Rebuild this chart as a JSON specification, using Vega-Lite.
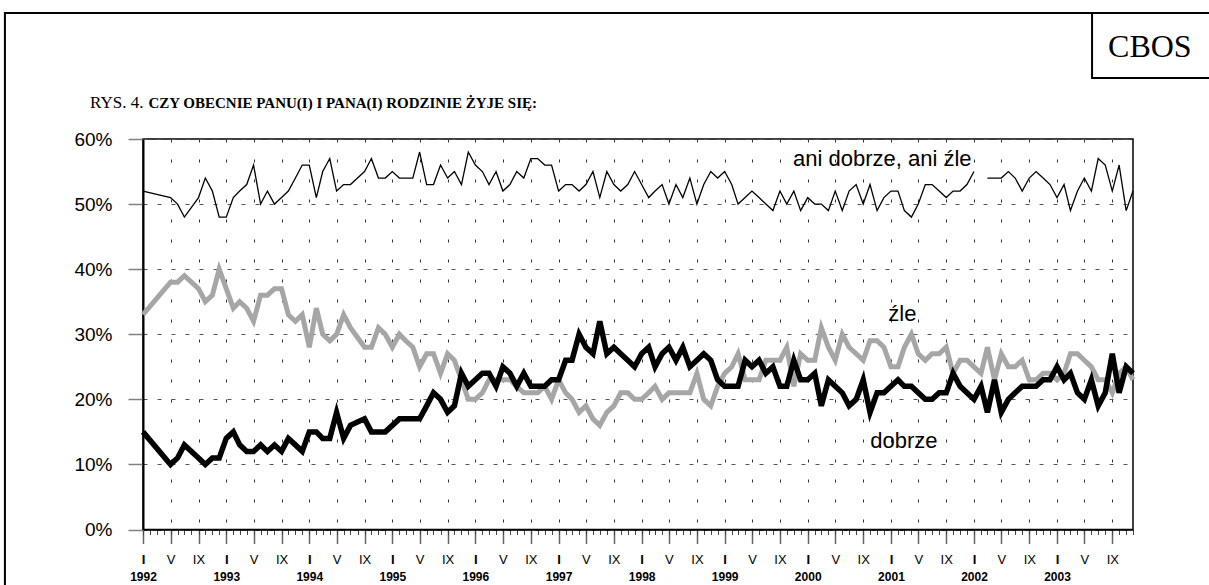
{
  "$schema": "https://vega.github.io/schema/vega-lite/v6.json",
  "width": 990,
  "height": 390.5,
  "autosize": {"type": "none"},
  "padding": {"left": 143, "top": 139, "right": 76, "bottom": 55.5},
  "background": "white",
  "config": {
    "view": {"stroke": "black", "strokeWidth": 1.5},
    "axis": {"labelFont": "Liberation Sans", "titleFont": "Liberation Sans"}
  },
  "data": {
    "values": [
      {"date": "1992-01-01", "dobrze": 15, "zle": 33, "ani": 52},
      {"date": "1992-05-01", "dobrze": 10, "zle": 38, "ani": 51},
      {"date": "1992-06-01", "dobrze": 11, "zle": 38, "ani": 50},
      {"date": "1992-07-01", "dobrze": 13, "zle": 39, "ani": 48},
      {"date": "1992-09-01", "dobrze": 11, "zle": 37, "ani": 51},
      {"date": "1992-10-01", "dobrze": 10, "zle": 35, "ani": 54},
      {"date": "1992-11-01", "dobrze": 11, "zle": 36, "ani": 52},
      {"date": "1992-12-01", "dobrze": 11, "zle": 40, "ani": 48},
      {"date": "1993-01-01", "dobrze": 14, "zle": 37, "ani": 48},
      {"date": "1993-02-01", "dobrze": 15, "zle": 34, "ani": 51},
      {"date": "1993-03-01", "dobrze": 13, "zle": 35, "ani": 52},
      {"date": "1993-04-01", "dobrze": 12, "zle": 34, "ani": 53},
      {"date": "1993-05-01", "dobrze": 12, "zle": 32, "ani": 56},
      {"date": "1993-06-01", "dobrze": 13, "zle": 36, "ani": 50},
      {"date": "1993-07-01", "dobrze": 12, "zle": 36, "ani": 52},
      {"date": "1993-08-01", "dobrze": 13, "zle": 37, "ani": 50},
      {"date": "1993-09-01", "dobrze": 12, "zle": 37, "ani": 51},
      {"date": "1993-10-01", "dobrze": 14, "zle": 33, "ani": 52},
      {"date": "1993-11-01", "dobrze": 13, "zle": 32, "ani": 54},
      {"date": "1993-12-01", "dobrze": 12, "zle": 33, "ani": 56},
      {"date": "1994-01-01", "dobrze": 15, "zle": 28, "ani": 56},
      {"date": "1994-02-01", "dobrze": 15, "zle": 34, "ani": 51},
      {"date": "1994-03-01", "dobrze": 14, "zle": 30, "ani": 55},
      {"date": "1994-04-01", "dobrze": 14, "zle": 29, "ani": 57},
      {"date": "1994-05-01", "dobrze": 18, "zle": 30, "ani": 52},
      {"date": "1994-06-01", "dobrze": 14, "zle": 33, "ani": 53},
      {"date": "1994-07-01", "dobrze": 16, "zle": 31, "ani": 53},
      {"date": "1994-08-01", "dobrze": 16.5, "zle": 29.5, "ani": 54},
      {"date": "1994-09-01", "dobrze": 17, "zle": 28, "ani": 55},
      {"date": "1994-10-01", "dobrze": 15, "zle": 28, "ani": 57},
      {"date": "1994-11-01", "dobrze": 15, "zle": 31, "ani": 54},
      {"date": "1994-12-01", "dobrze": 15, "zle": 30, "ani": 54},
      {"date": "1995-01-01", "dobrze": 16, "zle": 28, "ani": 55},
      {"date": "1995-02-01", "dobrze": 17, "zle": 30, "ani": 54},
      {"date": "1995-03-01", "dobrze": 17, "zle": 29, "ani": 54},
      {"date": "1995-04-01", "dobrze": 17, "zle": 28, "ani": 54},
      {"date": "1995-05-01", "dobrze": 17, "zle": 25, "ani": 58},
      {"date": "1995-06-01", "dobrze": 19, "zle": 27, "ani": 53},
      {"date": "1995-07-01", "dobrze": 21, "zle": 27, "ani": 53},
      {"date": "1995-08-01", "dobrze": 20, "zle": 24, "ani": 56},
      {"date": "1995-09-01", "dobrze": 18, "zle": 27, "ani": 54},
      {"date": "1995-10-01", "dobrze": 19, "zle": 26, "ani": 55},
      {"date": "1995-11-01", "dobrze": 24, "zle": 23, "ani": 53},
      {"date": "1995-12-01", "dobrze": 22, "zle": 20, "ani": 58},
      {"date": "1996-01-01", "dobrze": 23, "zle": 20, "ani": 56},
      {"date": "1996-02-01", "dobrze": 24, "zle": 21, "ani": 55},
      {"date": "1996-03-01", "dobrze": 24, "zle": 23, "ani": 53},
      {"date": "1996-04-01", "dobrze": 22, "zle": 23, "ani": 55},
      {"date": "1996-05-01", "dobrze": 25, "zle": 23, "ani": 52},
      {"date": "1996-06-01", "dobrze": 24, "zle": 23, "ani": 53},
      {"date": "1996-07-01", "dobrze": 22, "zle": 22, "ani": 55},
      {"date": "1996-08-01", "dobrze": 24, "zle": 21, "ani": 54},
      {"date": "1996-09-01", "dobrze": 22, "zle": 21, "ani": 57},
      {"date": "1996-10-01", "dobrze": 22, "zle": 21, "ani": 57},
      {"date": "1996-11-01", "dobrze": 22, "zle": 22, "ani": 56},
      {"date": "1996-12-01", "dobrze": 23, "zle": 20, "ani": 56},
      {"date": "1997-01-01", "dobrze": 23, "zle": 23, "ani": 52},
      {"date": "1997-02-01", "dobrze": 26, "zle": 21, "ani": 53},
      {"date": "1997-03-01", "dobrze": 26, "zle": 20, "ani": 53},
      {"date": "1997-04-01", "dobrze": 30, "zle": 18, "ani": 52},
      {"date": "1997-05-01", "dobrze": 28, "zle": 19, "ani": 53},
      {"date": "1997-06-01", "dobrze": 27, "zle": 17, "ani": 55},
      {"date": "1997-07-01", "dobrze": 32, "zle": 16, "ani": 51},
      {"date": "1997-08-01", "dobrze": 27, "zle": 18, "ani": 55},
      {"date": "1997-09-01", "dobrze": 28, "zle": 19, "ani": 53},
      {"date": "1997-10-01", "dobrze": 27, "zle": 21, "ani": 52},
      {"date": "1997-11-01", "dobrze": 26, "zle": 21, "ani": 53},
      {"date": "1997-12-01", "dobrze": 25, "zle": 20, "ani": 55},
      {"date": "1998-01-01", "dobrze": 27, "zle": 20, "ani": 53},
      {"date": "1998-02-01", "dobrze": 28, "zle": 21, "ani": 51},
      {"date": "1998-03-01", "dobrze": 25, "zle": 22, "ani": 52},
      {"date": "1998-04-01", "dobrze": 27, "zle": 20, "ani": 53},
      {"date": "1998-05-01", "dobrze": 28, "zle": 21, "ani": 50},
      {"date": "1998-06-01", "dobrze": 26, "zle": 21, "ani": 53},
      {"date": "1998-07-01", "dobrze": 28, "zle": 21, "ani": 51},
      {"date": "1998-08-01", "dobrze": 25, "zle": 21, "ani": 54},
      {"date": "1998-09-01", "dobrze": 26, "zle": 24, "ani": 50},
      {"date": "1998-10-01", "dobrze": 27, "zle": 20, "ani": 53},
      {"date": "1998-11-01", "dobrze": 26, "zle": 19, "ani": 55},
      {"date": "1998-12-01", "dobrze": 23, "zle": 22, "ani": 54},
      {"date": "1999-01-01", "dobrze": 22, "zle": 24, "ani": 55},
      {"date": "1999-02-01", "dobrze": 22, "zle": 25, "ani": 53},
      {"date": "1999-03-01", "dobrze": 22, "zle": 27, "ani": 50},
      {"date": "1999-04-01", "dobrze": 26, "zle": 23, "ani": 51},
      {"date": "1999-05-01", "dobrze": 25, "zle": 23, "ani": 52},
      {"date": "1999-06-01", "dobrze": 26, "zle": 23, "ani": 51},
      {"date": "1999-07-01", "dobrze": 24, "zle": 26, "ani": 50},
      {"date": "1999-08-01", "dobrze": 25, "zle": 26, "ani": 49},
      {"date": "1999-09-01", "dobrze": 22, "zle": 26, "ani": 52},
      {"date": "1999-10-01", "dobrze": 22, "zle": 28, "ani": 50},
      {"date": "1999-11-01", "dobrze": 26, "zle": 22, "ani": 52},
      {"date": "1999-12-01", "dobrze": 23, "zle": 27, "ani": 49},
      {"date": "2000-01-01", "dobrze": 23, "zle": 26, "ani": 51},
      {"date": "2000-02-01", "dobrze": 24, "zle": 26, "ani": 50},
      {"date": "2000-03-01", "dobrze": 19, "zle": 31, "ani": 50},
      {"date": "2000-04-01", "dobrze": 23, "zle": 28, "ani": 49},
      {"date": "2000-05-01", "dobrze": 22, "zle": 26, "ani": 52},
      {"date": "2000-06-01", "dobrze": 21, "zle": 30, "ani": 49},
      {"date": "2000-07-01", "dobrze": 19, "zle": 28, "ani": 52},
      {"date": "2000-08-01", "dobrze": 20, "zle": 27, "ani": 53},
      {"date": "2000-09-01", "dobrze": 23, "zle": 26, "ani": 50},
      {"date": "2000-10-01", "dobrze": 18, "zle": 29, "ani": 53},
      {"date": "2000-11-01", "dobrze": 21, "zle": 29, "ani": 49},
      {"date": "2000-12-01", "dobrze": 21, "zle": 28, "ani": 51},
      {"date": "2001-01-01", "dobrze": 22, "zle": 25, "ani": 52},
      {"date": "2001-02-01", "dobrze": 23, "zle": 25, "ani": 52},
      {"date": "2001-03-01", "dobrze": 22, "zle": 28, "ani": 49},
      {"date": "2001-04-01", "dobrze": 22, "zle": 30, "ani": 48},
      {"date": "2001-05-01", "dobrze": 21, "zle": 27, "ani": 50},
      {"date": "2001-06-01", "dobrze": 20, "zle": 26, "ani": 53},
      {"date": "2001-07-01", "dobrze": 20, "zle": 27, "ani": 53},
      {"date": "2001-08-01", "dobrze": 21, "zle": 27, "ani": 52},
      {"date": "2001-09-01", "dobrze": 21, "zle": 28, "ani": 51},
      {"date": "2001-10-01", "dobrze": 24, "zle": 24, "ani": 52},
      {"date": "2001-11-01", "dobrze": 22, "zle": 26, "ani": 52},
      {"date": "2001-12-01", "dobrze": 21, "zle": 26, "ani": 53},
      {"date": "2002-01-01", "dobrze": 20, "zle": 25, "ani": 55},
      {"date": "2002-02-01", "dobrze": 22, "zle": 24, "ani": null},
      {"date": "2002-03-01", "dobrze": 18, "zle": 28, "ani": 54},
      {"date": "2002-04-01", "dobrze": 23, "zle": 23, "ani": 54},
      {"date": "2002-05-01", "dobrze": 18, "zle": 27, "ani": 54},
      {"date": "2002-06-01", "dobrze": 20, "zle": 25, "ani": 55},
      {"date": "2002-07-01", "dobrze": 21, "zle": 25, "ani": 54},
      {"date": "2002-08-01", "dobrze": 22, "zle": 26, "ani": 52},
      {"date": "2002-09-01", "dobrze": 22, "zle": 23, "ani": 54},
      {"date": "2002-10-01", "dobrze": 22, "zle": 23, "ani": 55},
      {"date": "2002-11-01", "dobrze": 23, "zle": 24, "ani": 54},
      {"date": "2002-12-01", "dobrze": 23, "zle": 24, "ani": 53},
      {"date": "2003-01-01", "dobrze": 25, "zle": 23, "ani": 51},
      {"date": "2003-02-01", "dobrze": 23, "zle": 24, "ani": 53},
      {"date": "2003-03-01", "dobrze": 24, "zle": 27, "ani": 49},
      {"date": "2003-04-01", "dobrze": 21, "zle": 27, "ani": 52},
      {"date": "2003-05-01", "dobrze": 20, "zle": 26, "ani": 54},
      {"date": "2003-06-01", "dobrze": 23, "zle": 25, "ani": 52},
      {"date": "2003-07-01", "dobrze": 19, "zle": 23, "ani": 57},
      {"date": "2003-08-01", "dobrze": 21, "zle": 23, "ani": 56},
      {"date": "2003-09-01", "dobrze": 27, "zle": 21, "ani": 52},
      {"date": "2003-10-01", "dobrze": 21, "zle": 24, "ani": 56},
      {"date": "2003-11-01", "dobrze": 25, "zle": 25, "ani": 49},
      {"date": "2003-12-01", "dobrze": 24, "zle": 23, "ani": 52}
    ]
  },
  "layer": [
    {
      "data": {"values": [{}]},
      "mark": {"type": "rect", "fillOpacity": 0, "stroke": "black", "strokeWidth": 2},
      "encoding": {
        "x": {"datum": {"year": 1990, "month": 5, "date": 4, "utc": true}, "type": "temporal", "scale": {"type": "utc", "domain": [{"year": 1992, "month": 1, "date": 1, "utc": true}, {"year": 2003, "month": 12, "date": 1, "utc": true}], "nice": false}, "axis": null},
        "x2": {"datum": {"year": 2007, "month": 1, "date": 1, "utc": true}},
        "y": {"datum": 79.37, "type": "quantitative", "scale": {"domain": [0, 60], "nice": false, "zero": false}, "axis": null},
        "y2": {"datum": -20}
      }
    },
    {
      "data": {"values": [{}]},
      "mark": {"type": "rect", "fillOpacity": 0, "stroke": "black", "strokeWidth": 2},
      "encoding": {
        "x": {"datum": {"year": 2003, "month": 6, "date": 4, "utc": true}, "type": "temporal", "axis": null},
        "x2": {"datum": {"year": 2007, "month": 1, "date": 1, "utc": true}},
        "y": {"datum": 79.37, "type": "quantitative", "axis": null},
        "y2": {"datum": 69.38}
      }
    },
    {
      "data": {"values": [{}]},
      "mark": {"type": "text", "text": "CBOS", "font": "Liberation Serif", "fontSize": 32, "align": "center", "baseline": "alphabetic", "color": "black"},
      "encoding": {
        "x": {"datum": {"year": 2004, "month": 2, "date": 13, "utc": true}, "type": "temporal", "axis": null},
        "y": {"datum": 72.6, "type": "quantitative", "axis": null}
      }
    },
    {
      "mark": {"type": "line", "color": "black", "strokeWidth": 1.3, "invalid": "break-paths-show-domains"},
      "encoding": {
        "x": {
          "field": "date", "type": "temporal",
          "scale": {"type": "utc", "domain": [{"year": 1992, "month": 1, "date": 1, "utc": true}, {"year": 2003, "month": 12, "date": 1, "utc": true}], "nice": false},
          "axis": {
            "orient": "bottom", "tickCount": {"interval": "year", "step": 1}, "ticks": false, "tickSize": 0,
            "domain": false, "grid": false, "title": null,
            "labelExpr": "utcFormat(datum.value, '%Y')", "labelFont": "Liberation Sans", "labelFontSize": 12,
            "labelFontWeight": "bold", "labelColor": "black", "labelBaseline": "alphabetic", "labelPadding": 50.5,
            "labelFlush": false, "labelOverlap": false, "labelBound": false
          }
        },
        "y": {
          "field": "ani", "type": "quantitative",
          "scale": {"domain": [0, 60], "nice": false, "zero": false},
          "axis": {
            "orient": "left",
            "values": [0, 10, 20, 30, 40, 50, 60], "labelExpr": "datum.value + '%'",
            "labelFont": "Liberation Sans", "labelFontSize": 19, "labelColor": "black", "labelPadding": 16,
            "tickSize": 15, "tickColor": "#808080", "tickWidth": 1.5,
            "domain": true, "domainColor": "black", "domainWidth": 2,
            "grid": true, "gridColor": "#555555", "gridDash": [4, 10], "gridWidth": 1,
            "title": "RYS. 4.", "titleAngle": 0, "titleAlign": "right", "titleBaseline": "alphabetic",
            "titleX": 0, "titleY": -32, "titleFont": "Liberation Serif", "titleFontSize": 17,
            "titleFontWeight": "normal", "titleColor": "black"
          }
        }
      }
    },
    {
      "mark": {"type": "line", "color": "#a6a6a6", "strokeWidth": 5, "strokeJoin": "miter"},
      "encoding": {
        "x": {
          "field": "date", "type": "temporal",
          "scale": {"type": "utc", "domain": [{"year": 1992, "month": 1, "date": 1, "utc": true}, {"year": 2003, "month": 12, "date": 1, "utc": true}], "nice": false},
          "axis": {
            "orient": "bottom", "tickCount": {"interval": "month", "step": 4}, "tickSize": 14,
            "tickColor": "#666666", "tickWidth": 1.5, "domain": false, "title": null,
            "grid": true, "gridColor": "#333333", "gridDash": [3, 17], "gridWidth": 1,
            "labelExpr": "utcmonth(datum.value) == 0 ? 'I' : (utcmonth(datum.value) == 4 ? 'V' : 'IX')",
            "labelFont": "Liberation Sans", "labelFontSize": 13,
            "labelFontWeight": {"condition": {"test": "utcmonth(datum.value) == 0", "value": "bold"}, "value": "normal"},
            "labelColor": "black", "labelBaseline": "alphabetic", "labelPadding": 20,
            "labelFlush": false, "labelOverlap": false, "labelBound": false
          }
        },
        "y": {"field": "zle", "type": "quantitative", "scale": {"domain": [0, 60], "nice": false, "zero": false}, "axis": null}
      }
    },
    {
      "mark": {"type": "line", "color": "black", "strokeWidth": 5.5, "strokeJoin": "miter"},
      "encoding": {
        "x": {
          "field": "date", "type": "temporal",
          "scale": {"type": "utc", "domain": [{"year": 1992, "month": 1, "date": 1, "utc": true}, {"year": 2003, "month": 12, "date": 1, "utc": true}], "nice": false},
          "axis": {
            "orient": "bottom", "tickCount": {"interval": "month", "step": 1}, "tickSize": 5,
            "tickColor": "#444444", "tickWidth": 1, "domain": true, "domainColor": "black", "domainWidth": 1.5,
            "labels": false, "grid": false,
            "title": "CZY OBECNIE PANU(I) I PANA(I) RODZINIE ŻYJE SIĘ:",
            "titleX": 5, "titleY": -422.5, "titleAlign": "left", "titleAnchor": "start", "titleBaseline": "alphabetic",
            "titleFont": "Liberation Serif", "titleFontSize": 15, "titleFontWeight": "bold", "titleColor": "black"
          }
        },
        "y": {"field": "dobrze", "type": "quantitative", "scale": {"domain": [0, 60], "nice": false, "zero": false}, "axis": null}
      }
    },
    {
      "data": {
        "values": [
          {"label": "ani dobrze, ani źle", "date": "2000-11-24", "value": 55.85},
          {"label": "źle", "date": "2001-02-20", "value": 32.08},
          {"label": "dobrze", "date": "2001-02-27", "value": 12.57}
        ]
      },
      "mark": {"type": "text", "font": "Liberation Sans", "fontSize": 22, "align": "center", "baseline": "alphabetic", "color": "black"},
      "encoding": {
        "x": {"field": "date", "type": "temporal", "axis": null},
        "y": {"field": "value", "type": "quantitative", "axis": null},
        "text": {"field": "label"}
      }
    }
  ],
  "resolve": {"axis": {"x": "independent", "y": "independent"}}
}
